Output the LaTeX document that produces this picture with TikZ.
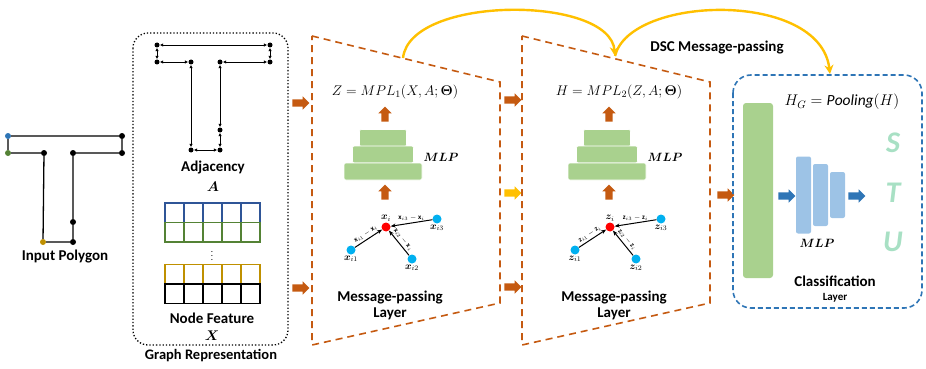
\documentclass[tikz,border=0pt]{standalone}
\usepackage{fix-cm}
\usepackage{fontspec}
\setmainfont{Carlito}
\usepackage{amsmath,amssymb,bm}
\usetikzlibrary{shapes.arrows,arrows.meta}

\tikzset{
    vtx/.style={circle, fill=black, inner sep=0pt, minimum size=6pt},
    adjedge/.style={{Latex[length=3.5pt,width=3.5pt]}-{Latex[length=3.5pt,width=3.5pt]}, line width=0.9pt},
    blockarrow/.style={single arrow, fill=mplorange, inner sep=3.5pt, minimum height=17pt,
        single arrow head extend=3pt, single arrow head indent=0pt},
    mlpbar/.style={fill=mlpgreen, draw=white, line width=0.6pt, rounded corners=2pt,
        inner sep=0pt, minimum height=17pt},
    nbredge/.style={-{Stealth[length=5pt,width=4pt]}, line width=1pt},
    edgelbl/.style={font=\fontsize{7}{7}\selectfont, inner sep=2pt},
    vtxlbl/.style={font=\fontsize{10}{11}\selectfont, inner sep=1pt},
    dscarc/.style={arcyellow, line width=2.4pt, -{Stealth[length=9pt,width=9pt]}},
}

\begin{document}
\begin{tikzpicture}[x=1pt, y=-1pt, font=\fontsize{15}{17}\selectfont\bfseries]
    % Define colors
    \definecolor{mplorange}{RGB}{197, 90, 17}
    \definecolor{arcyellow}{RGB}{255, 192, 0}
    \definecolor{mlpgreen}{RGB}{169, 209, 142}
    \definecolor{mlpblue}{RGB}{157, 195, 230}
    \definecolor{clsblue}{RGB}{46, 117, 182}
    \definecolor{nbrcyan}{RGB}{0, 176, 240}
    \definecolor{rowblue}{RGB}{47, 85, 151}
    \definecolor{rowgreen}{RGB}{84, 130, 53}
    \definecolor{rowgold}{RGB}{191, 144, 0}
    \definecolor{lettermint}{RGB}{168, 224, 196}

    \useasboundingbox (0,0) rectangle (926,369);

    % Input polygon with its coloured corners
    \foreach \n/\x/\y/\c in {p1/8/136/clsblue, p2/122/136/black, p3/122/153/black,
                             p4/73/153/black, p5/73/222/black, p6/73/242/black,
                             p7/43/242/rowgold, p8/44/153/black, p9/8/153/rowgreen}
        \node[vtx, fill=\c] (\n) at (\x,\y) {};
    \draw[line width=1.3pt] (p1) -- (p2) -- (p3) -- (p4) -- (p5) -- (p6) -- (p7) -- (p8) -- (p9) -- (p1);
    \node (inpoly) at (65,257) {Input Polygon};

    % Graph representation box
    \draw[line width=1.3pt, dotted, rounded corners=15pt] (133,33) rectangle (288,345);
    \node[font=\fontsize{14.5}{16}\selectfont\bfseries] (grlbl) at (211,356) {Graph Representation};

    % Adjacency as a directed graph
    \foreach \n/\x/\y in {a1/157/45, a2/270/45, a3/157/62, a4/191/62, a5/220/62,
                          a6/270/62, a7/220/130, a8/191/150, a9/220/150}
        \node[vtx, minimum size=5pt] (\n) at (\x,\y) {};
    \foreach \u/\w in {a1/a2, a1/a3, a2/a6, a3/a4, a5/a6, a4/a8, a5/a7, a7/a9, a8/a9}
        \draw[adjedge] (\u) -- (\w);
    \node (adjlbl) at (213,168) {Adjacency};
    \node[font=\fontsize{14}{16}\selectfont] (adjsym) at (213,187) {$\bm{A}$};

    % Node feature rows
    \foreach \c/\y in {rowblue/203, rowgreen/222.5, rowgold/264.5, black/284}
        \foreach \i in {0,...,4}
            \draw[\c, line width=1.3pt] (165+19*\i,\y) rectangle ++(19,19.5);
    \node[font=\fontsize{9}{10}\selectfont, inner sep=0pt] (vdots) at (212,253) {$\vdots$};
    \node (featlbl) at (212,318) {Node Feature};
    \node[font=\fontsize{14}{16}\selectfont] (featsym) at (212,336) {$\bm{X}$};

    % Block arrows between the stages
    \foreach \n/\x/\y/\c in {r1/299/103/mplorange, r2/299/288/mplorange, r3/511/100/mplorange,
                             r4/511/193/arcyellow, r5/511/287/mplorange, r6/724/195/mplorange,
                             r7/785/196/clsblue, r8/855/196/clsblue}
        \node[blockarrow, fill=\c] (\n) at (\x,\y) {};

    % Dashed outlines of the two message-passing layers
    \foreach \sh in {0,210}
        \draw[mplorange, line width=1.6pt, dash pattern=on 7pt off 5pt, xshift=\sh]
            (312,36) -- (500,82) -- (500,303) -- (312,345) -- cycle;

    % Layer contents: output, MLP stack and neighbourhood of node i
    \foreach \l/\sh/\vv/\outv/\inv in {1/0/x/Z/X, 2/224/z/H/Z} {
        \begin{scope}[xshift=\sh]
            \node[font=\fontsize{14}{16}\selectfont] (eq\l) at (395,92) {$\outv = MPL_{\l}(\inv, A; \bm{\Theta})$};
            \node[blockarrow, shape border rotate=90, minimum height=15pt] (upa\l) at (385,116) {};
            \node[mlpbar, minimum width=47pt] (bara\l) at (383,138) {};
            \node[mlpbar, minimum width=61pt] (barb\l) at (383,154.5) {};
            \node[mlpbar, minimum width=78pt] (barc\l) at (383,171.5) {};
            \node[font=\fontsize{12}{14}\selectfont] (mlp\l) at (441,157) {$\bm{MLP}$};
            \node[blockarrow, shape border rotate=90, minimum height=15pt] (upb\l) at (385,194) {};
            \node[vtx, fill=red, minimum size=9pt, label={[vtxlbl]above:$\bm{\vv}_i$}] (c\l) at (386,227) {};
            \node[vtx, fill=nbrcyan, minimum size=9pt, label={[vtxlbl]below:$\bm{\vv}_{i1}$}] (na\l) at (351,250) {};
            \node[vtx, fill=nbrcyan, minimum size=9pt, label={[vtxlbl]below:$\bm{\vv}_{i2}$}] (nb\l) at (412,259) {};
            \node[vtx, fill=nbrcyan, minimum size=9pt, label={[vtxlbl]below:$\bm{\vv}_{i3}$}] (nc\l) at (437,219) {};
            \draw[nbredge] (na\l) -- node[edgelbl, above, sloped] {$\mathbf{\vv}_{i1}-\mathbf{\vv}_i$} (c\l);
            \draw[nbredge] (nb\l) -- node[edgelbl, above, sloped] {$\mathbf{\vv}_{i2}-\mathbf{\vv}_i$} (c\l);
            \draw[nbredge] (nc\l) -- node[edgelbl, above] {$\mathbf{\vv}_{i3}-\mathbf{\vv}_i$} (c\l);
            \node[align=center, font=\fontsize{15}{16}\selectfont\bfseries] (mp\l) at (390,305) {Message-passing\\Layer};
        \end{scope}
    }

    % DSC message-passing arcs
    \coordinate (dsca) at (403,58);
    \coordinate (dscb) at (615,56);
    \coordinate (dscc) at (830,74);
    \draw[dscarc] (dsca) .. controls (410,-5) and (610,-5) .. (dscb);
    \draw[dscarc] (dscb) .. controls (630,-5) and (820,-10) .. (dscc);
    \node (dsclbl) at (717,48) {DSC Message-passing};

    % Classification layer
    \draw[clsblue, line width=1.6pt, dash pattern=on 5pt off 3pt, rounded corners=18pt] (733,75) rectangle (922,308);
    \node[fill=mlpgreen, rounded corners=3pt, inner sep=0pt, minimum width=30pt, minimum height=175pt] (pool) at (758,190.5) {};
    \node[font=\fontsize{15.5}{17}\selectfont] (pooleq) at (842,102) {$H_G = \mathit{Pooling}(H)$};
    \foreach \n/\x/\h in {1/803.5/77, 2/820.5/62, 3/837.5/46}
        \node[fill=mlpblue, rounded corners=2pt, inner sep=0pt, minimum width=15pt, minimum height=\h pt] (cb\n) at (\x,195) {};
    \node[font=\fontsize{12}{14}\selectfont] (mlp3) at (817,243) {$\bm{MLP}$};
    \foreach \ch/\y in {S/143, T/193, U/242}
        \node[font=\fontsize{30}{30}\selectfont\bfseries\itshape, text=lettermint] (cls\ch) at (893,\y) {\ch};
    \node (clslbl) at (835,281) {Classification};
    \node[font=\fontsize{11}{12}\selectfont\bfseries] (clslayer) at (835,298) {Layer};
\end{tikzpicture}
\end{document}
